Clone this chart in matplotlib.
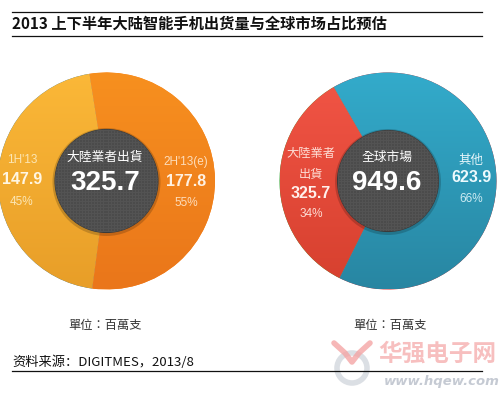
import numpy as np
import matplotlib
matplotlib.use("Agg")
import matplotlib.pyplot as plt
from matplotlib.colors import LinearSegmentedColormap
from matplotlib.patches import Circle

# data
title = "2013 上下半年大陆智能手机出货量与全球市场占比预估"
source = "资料来源：DIGITMES，2013/8"
unit = "單位：百萬支"

left_center_label = "大陸業者出貨"
left_total = "325.7"
left_labels = ["1H'13", "2H'13(e)"]
left_values = [147.9, 177.8]
left_pcts = ["45%", "55%"]

right_center_label = "全球市場"
right_total = "949.6"
right_labels = ["大陸業者\n出貨", "其他"]
right_values = [325.7, 623.9]
right_pcts = ["34%", "66%"]

CJK = ["Noto Sans CJK TC", "DejaVu Sans"]
NUM = ["Liberation Sans", "Noto Sans CJK TC"]

fig = plt.figure(figsize=(5.04, 3.98), dpi=100)
ax = fig.add_axes([0, 0, 1, 1])


def donut(cx, cy, r, values, start, grads, rin):
    # y axis is inverted, so go clockwise in data to get screen counterclockwise
    wedges, _ = ax.pie(values, center=(cx, cy), radius=r, startangle=-start,
                       counterclock=False, wedgeprops=dict(edgecolor="none"),
                       frame=True)
    grad = np.linspace(0, 1, 256).reshape(-1, 1)
    for w, (c1, c2) in zip(wedges, grads):
        cm = LinearSegmentedColormap.from_list("g", [c1, c2])
        im = ax.imshow(grad, cmap=cm, extent=(cx - r, cx + r, cy + r, cy - r),
                       aspect="auto", zorder=2)
        im.set_clip_path(w)
    # shadow + dark checkered centre
    ax.add_patch(Circle((cx, cy + 1), rin + 2.5, color="#000000", alpha=0.18, zorder=3, lw=0))
    disc = Circle((cx, cy), rin, facecolor="#4d4d4d", edgecolor="#3a3a3a", lw=0.8, zorder=4)
    ax.add_patch(disc)
    n = 2 * int(rin) + 2
    ii, jj = np.mgrid[0:n, 0:n]
    chk = (((ii + jj) // 3 + (ii - jj + 999) // 3) % 2).astype(float)
    cm2 = LinearSegmentedColormap.from_list("c", ["#4b4b4b", "#535353"])
    im2 = ax.imshow(chk, cmap=cm2, extent=(cx - rin, cx + rin, cy + rin, cy - rin),
                    interpolation="nearest", aspect="auto", zorder=5)
    im2.set_clip_path(disc)


# left donut
donut(106.5, 181, 108.5, left_values, 99,
      [("#FBB838", "#E89E28"), ("#F7901F", "#EA761A")], 51.5)
ax.text(105, 157, left_center_label, color="white", fontsize=9.2, family=CJK,
        ha="center", va="center", zorder=6)
ax.text(105, 183, left_total, color="white", fontsize=20, fontweight="bold",
        family=NUM, ha="center", va="center", zorder=6)
ax.text(22, 160, left_labels[0], color="#FCE6B5", fontsize=8.5, family=NUM, ha="center", va="center", zorder=6)
ax.text(22, 180, f"{left_values[0]}", color="#FFF6E2", fontsize=11.5, fontweight="bold", family=NUM, ha="center", va="center", zorder=6)
ax.text(22, 202, left_pcts[0], color="#FCE6B5", fontsize=8.5, family=NUM, ha="center", va="center", zorder=6)
ax.text(186, 162, left_labels[1], color="#FDDDBB", fontsize=8.5, family=NUM, ha="center", va="center", zorder=6)
ax.text(186, 182, f"{left_values[1]}", color="#FFF1E2", fontsize=11.5, fontweight="bold", family=NUM, ha="center", va="center", zorder=6)
ax.text(186, 203, left_pcts[1], color="#FDDDBB", fontsize=8.5, family=NUM, ha="center", va="center", zorder=6)

# right donut
donut(388, 181, 108.5, right_values, 120,
      [("#F25546", "#D6402E"), ("#33ABCB", "#2886A2")], 50.5)
ax.text(387, 157, right_center_label, color="white", fontsize=9.2, family=CJK,
        ha="center", va="center", zorder=6)
ax.text(387, 183, right_total, color="white", fontsize=20, fontweight="bold",
        family=NUM, ha="center", va="center", zorder=6)
ax.text(311, 164, right_labels[0], color="#FDDCD4", fontsize=8.8, family=CJK, ha="center", va="center",
        linespacing=1.75, zorder=6)
ax.text(311, 194, f"{right_values[0]}", color="#FFF0EC", fontsize=11.5, fontweight="bold", family=NUM, ha="center", va="center", zorder=6)
ax.text(311, 214, right_pcts[0], color="#FDDCD4", fontsize=8.5, family=NUM, ha="center", va="center", zorder=6)
ax.text(471, 160, right_labels[1], color="#E6F6FA", fontsize=9, family=CJK, ha="center", va="center", zorder=6)
ax.text(471, 178, f"{right_values[1]}", color="#EEFAFD", fontsize=11.5, fontweight="bold", family=NUM, ha="center", va="center", zorder=6)
ax.text(471, 199, right_pcts[1], color="#CDEBF3", fontsize=8.5, family=NUM, ha="center", va="center", zorder=6)

# title and rules
ax.plot([12, 482], [12, 12], color="#111111", lw=0.9)
ax.plot([12, 482], [36, 36], color="#111111", lw=0.9)
ax.text(12, 24, title, fontsize=11, fontweight="bold", family=["Noto Sans CJK SC", "DejaVu Sans"],
        ha="left", va="center", color="#111111")

# units
ax.text(105, 325, unit, fontsize=8.8, family=CJK, ha="center", va="center", color="#333333")
ax.text(390, 325, unit, fontsize=8.8, family=CJK, ha="center", va="center", color="#333333")

# source and bottom rule
ax.text(12, 362, source, fontsize=9.5, family=["Noto Sans CJK SC", "DejaVu Sans"],
        ha="left", va="center", color="#111111")
ax.plot([12, 482], [371, 371], color="#111111", lw=0.9)

# faint watermark
ax.add_patch(Circle((352, 368), 15, facecolor="none", edgecolor="#D3D7DE", lw=4, alpha=0.8, zorder=1))
ax.plot([334, 345, 352, 359, 370], [343, 353, 362, 353, 343], color="#F4A5A5", lw=4, alpha=0.8,
        solid_capstyle="round", zorder=1)
ax.text(437, 354, "华强电子网", fontsize=17, fontweight="bold", family=["Noto Sans CJK SC"],
        ha="center", va="center", color="#F6B4B4", alpha=0.85, zorder=1)
ax.text(442, 382, "www.hqew.com", fontsize=9.5, fontweight="bold", style="italic", family=["DejaVu Sans"],
        ha="center", va="center", color="#C5CAD3", zorder=1)

ax.set_xlim(0, 504)
ax.set_ylim(398, 0)
ax.axis("off")

fig.savefig("out.png", dpi=100)
